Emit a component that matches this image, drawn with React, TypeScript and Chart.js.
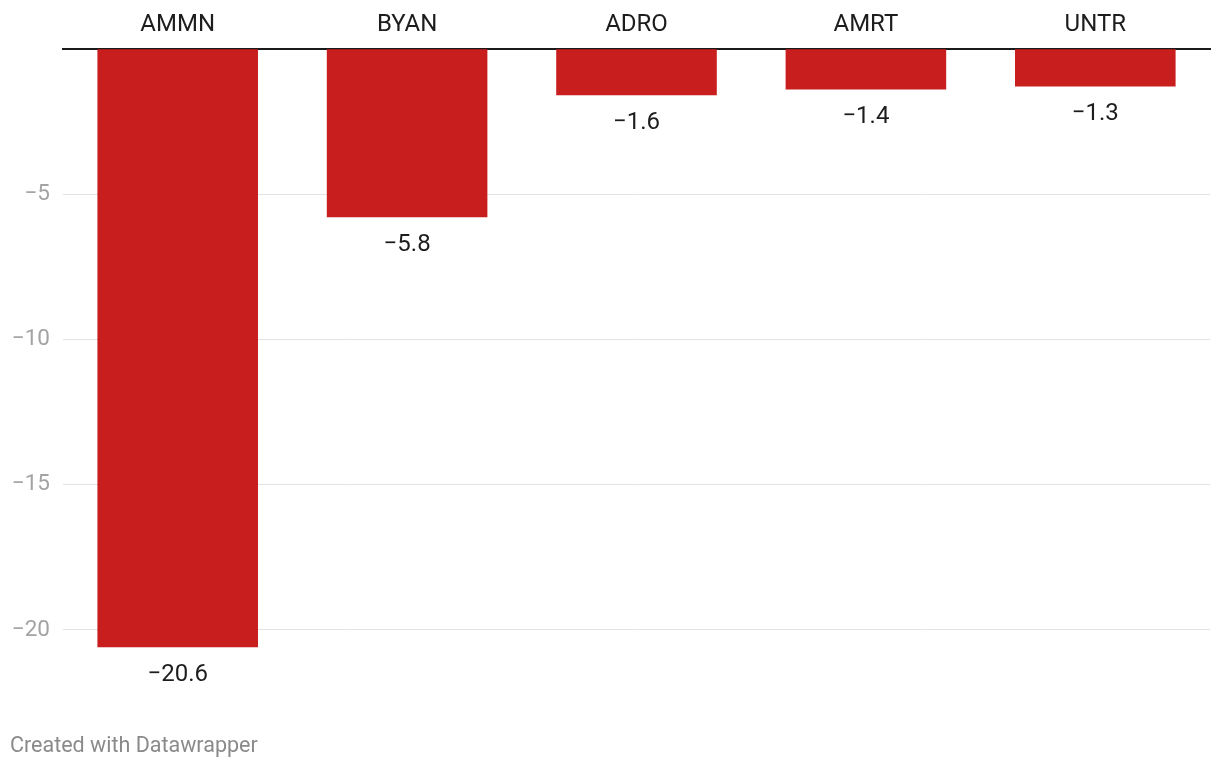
import React, { useEffect, useRef } from "react";
import { Chart, registerables } from "chart.js";

Chart.register(...registerables);

const categories = ["AMMN", "BYAN", "ADRO", "AMRT", "UNTR"];
const values = [-20.6, -5.8, -1.6, -1.4, -1.3];
const yTicks = [0, -5, -10, -15, -20];

const BAR_COLOR = "#c91e1e";
const FONT = "Roboto, 'Noto Sans', sans-serif";

const fmt = (v: number) => (v < 0 ? "\u2212" : "") + Math.abs(v).toFixed(1);
const fmtTick = (v: number) => (v < 0 ? "\u2212" : "") + Math.abs(v).toString();

const valueLabels = {
  id: "valueLabels",
  afterDatasetsDraw(chart: any) {
    const ctx = chart.ctx;
    const meta = chart.getDatasetMeta(0);
    ctx.save();
    ctx.font = `24px ${FONT}`;
    ctx.fillStyle = "#1d1d1d";
    ctx.textAlign = "center";
    ctx.textBaseline = "middle";
    meta.data.forEach((bar: any, i: number) => {
      const v = chart.data.datasets[0].data[i] as number;
      ctx.fillText(fmt(v), bar.x, bar.y + 27.5);
    });
    ctx.restore();
  },
};

export default function App() {
  const ref = useRef<HTMLCanvasElement | null>(null);

  useEffect(() => {
    document.body.style.margin = "0";
    if (!ref.current) return;
    const chart = new Chart(ref.current, {
      type: "bar",
      data: {
        labels: categories,
        datasets: [
          {
            data: values,
            backgroundColor: BAR_COLOR,
            borderWidth: 0,
            barPercentage: 0.7,
            categoryPercentage: 1,
          },
        ],
      },
      options: {
        animation: false,
        responsive: false,
        maintainAspectRatio: false,
        layout: { padding: { left: 0, right: 10, top: 0, bottom: 120.6 } },
        plugins: {
          legend: { display: false },
          tooltip: { enabled: false },
          title: { display: false },
        },
        scales: {
          x: {
            position: "top",
            grid: { display: false, drawTicks: false },
            border: { display: true, color: "#1a1a1a", width: 2 },
            ticks: {
              padding: 9,
              color: "#1d1d1d",
              font: { family: FONT, size: 24, lineHeight: 1.2 },
            },
            afterFit(scale: any) {
              scale.height = 48.7;
            },
          },
          y: {
            min: -20.6,
            max: 0,
            grid: {
              drawTicks: false,
              color: (c: any) => (c.tick && c.tick.value === 0 ? "rgba(0,0,0,0)" : "#e3e3e3"),
              lineWidth: 1,
            },
            border: { display: false },
            afterBuildTicks(scale: any) {
              scale.ticks = yTicks.map((v) => ({ value: v }));
            },
            ticks: {
              padding: 13,
              color: "#a3a3a3",
              font: { family: FONT, size: 22.5 },
              callback: (v: any) => (v === 0 ? "" : fmtTick(Number(v))),
            },
            afterFit(scale: any) {
              scale.width = 63;
            },
          },
        },
      },
      plugins: [valueLabels],
    });
    return () => chart.destroy();
  }, []);

  return (
    <div style={{ position: "relative", width: 1220, height: 768, background: "#fff" }}>
      <canvas ref={ref} width={1220} height={768} style={{ width: 1220, height: 768, display: "block" }} />
      <div
        style={{
          position: "absolute",
          left: 10,
          top: 732,
          fontFamily: FONT,
          fontSize: 21.5,
          color: "#8a8a8a",
          lineHeight: "26px",
          whiteSpace: "nowrap",
        }}
      >
        Created with Datawrapper
      </div>
    </div>
  );
}
